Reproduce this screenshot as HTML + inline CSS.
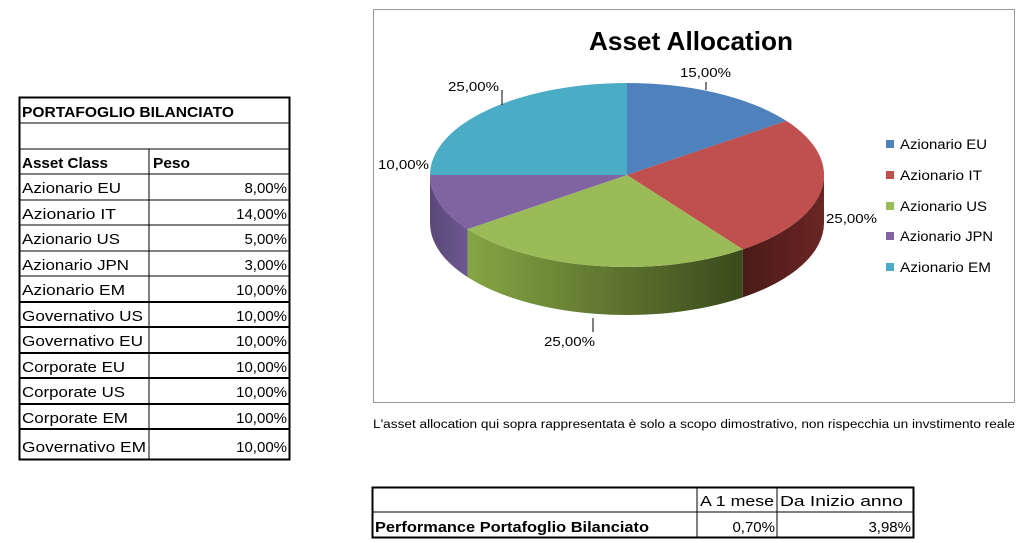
<!DOCTYPE html>
<html><head><meta charset="utf-8"><style>
html,body{margin:0;padding:0;background:#fff}
svg{display:block}
text{font-family:"Liberation Sans",sans-serif}
</style></head><body>
<svg width="1024" height="543" viewBox="0 0 1024 543" xmlns="http://www.w3.org/2000/svg">
<defs>
<linearGradient id="gs" x1="0" x2="1" y1="0" y2="0">
<stop offset="0" stop-color="#86a544"/><stop offset="1" stop-color="#3a4a1c"/></linearGradient>
<linearGradient id="rs" x1="0" x2="1"><stop offset="0" stop-color="#4a1a18"/><stop offset="1" stop-color="#6a2624"/></linearGradient>
<linearGradient id="ps" x1="0" x2="1"><stop offset="0" stop-color="#5b4778"/><stop offset="1" stop-color="#6e5890"/></linearGradient>
</defs>
<!-- Left table -->
<g stroke="#000" fill="none">
<rect x="19.5" y="97.5" width="270" height="362" stroke-width="2"/>
<g stroke-width="1">
<line x1="19" y1="123" x2="290" y2="123"/>
<line x1="19" y1="149" x2="290" y2="149"/>
<line x1="19" y1="174" x2="290" y2="174"/>
<line x1="19" y1="200" x2="290" y2="200"/>
<line x1="19" y1="225" x2="290" y2="225"/>
<line x1="19" y1="251" x2="290" y2="251"/>
<line x1="19" y1="276" x2="290" y2="276"/>
<line x1="19" y1="302" x2="290" y2="302" stroke-width="2"/>
<line x1="19" y1="327" x2="290" y2="327" stroke-width="2"/>
<line x1="19" y1="353" x2="290" y2="353" stroke-width="2"/>
<line x1="19" y1="378" x2="290" y2="378" stroke-width="2"/>
<line x1="19" y1="404" x2="290" y2="404" stroke-width="2"/>
<line x1="19" y1="429" x2="290" y2="429" stroke-width="2"/>
<line x1="149" y1="149" x2="149" y2="460"/>
</g></g>
<g font-size="15" fill="#000">
<text x="22" y="117" font-weight="bold" textLength="212" lengthAdjust="spacingAndGlyphs">PORTAFOGLIO BILANCIATO</text>
<text x="22" y="168" font-weight="bold" textLength="86" lengthAdjust="spacingAndGlyphs">Asset Class</text>
<text x="153" y="168" font-weight="bold" textLength="37" lengthAdjust="spacingAndGlyphs">Peso</text>
<text x="22" y="193" textLength="99" lengthAdjust="spacingAndGlyphs">Azionario EU</text>
<text x="22" y="219" textLength="94" lengthAdjust="spacingAndGlyphs">Azionario IT</text>
<text x="22" y="244" textLength="98" lengthAdjust="spacingAndGlyphs">Azionario US</text>
<text x="22" y="270" textLength="107" lengthAdjust="spacingAndGlyphs">Azionario JPN</text>
<text x="22" y="295" textLength="103" lengthAdjust="spacingAndGlyphs">Azionario EM</text>
<text x="22" y="321" textLength="121" lengthAdjust="spacingAndGlyphs">Governativo US</text>
<text x="22" y="346" textLength="121" lengthAdjust="spacingAndGlyphs">Governativo EU</text>
<text x="22" y="372" textLength="103" lengthAdjust="spacingAndGlyphs">Corporate EU</text>
<text x="22" y="397" textLength="103" lengthAdjust="spacingAndGlyphs">Corporate US</text>
<text x="22" y="423" textLength="106" lengthAdjust="spacingAndGlyphs">Corporate EM</text>
<text x="22" y="452" textLength="124" lengthAdjust="spacingAndGlyphs">Governativo EM</text>
<g text-anchor="end">
<text x="287" y="193">8,00%</text>
<text x="287" y="219">14,00%</text>
<text x="287" y="244">5,00%</text>
<text x="287" y="270">3,00%</text>
<text x="287" y="295">10,00%</text>
<text x="287" y="321">10,00%</text>
<text x="287" y="346">10,00%</text>
<text x="287" y="372">10,00%</text>
<text x="287" y="397">10,00%</text>
<text x="287" y="423">10,00%</text>
<text x="287" y="452">10,00%</text>
</g></g>
<!-- Chart frame -->
<rect x="373.5" y="9.5" width="641" height="393" fill="#fff" stroke="#999" stroke-width="1"/>
<text x="691" y="50" font-size="26" font-weight="bold" text-anchor="middle" textLength="204" lengthAdjust="spacingAndGlyphs">Asset Allocation</text>
<!-- pie sides -->
<path d="M824,175 A197,92 0 0,1 742.8,249.4 L742.8,297.4 A197,92 0 0,0 824,223 Z" fill="url(#rs)"/>
<path d="M742.8,249.4 A197,92 0 0,1 467.6,229.1 L467.6,277.1 A197,92 0 0,0 742.8,297.4 Z" fill="url(#gs)"/>
<path d="M467.6,229.1 A197,92 0 0,1 430,175 L430,223 A197,92 0 0,0 467.6,277.1 Z" fill="url(#ps)"/>
<!-- pie top -->
<path d="M627,175 L627,83 A197,92 0 0,1 786.4,120.9 Z" fill="#4f81bd"/>
<path d="M627,175 L786.4,120.9 A197,92 0 0,1 742.8,249.4 Z" fill="#c0504d"/>
<path d="M627,175 L742.8,249.4 A197,92 0 0,1 467.6,229.1 Z" fill="#9bbb59"/>
<path d="M627,175 L467.6,229.1 A197,92 0 0,1 430,175 Z" fill="#8064a2"/>
<path d="M627,175 L430,175 A197,92 0 0,1 627,83 Z" fill="#4bacc6"/>
<!-- leaders -->
<g stroke="#000" stroke-width="1">
<line x1="706" y1="82" x2="706" y2="90"/>
<line x1="502" y1="90" x2="502" y2="105"/>
<line x1="593" y1="318" x2="593" y2="332"/>
</g>
<g font-size="13" fill="#000">
<text x="680" y="77" textLength="51" lengthAdjust="spacingAndGlyphs">15,00%</text>
<text x="448" y="91" textLength="51" lengthAdjust="spacingAndGlyphs">25,00%</text>
<text x="378" y="169" textLength="51" lengthAdjust="spacingAndGlyphs">10,00%</text>
<text x="826" y="223" textLength="51" lengthAdjust="spacingAndGlyphs">25,00%</text>
<text x="544" y="346" textLength="51" lengthAdjust="spacingAndGlyphs">25,00%</text>
</g>
<!-- legend -->
<rect x="886" y="140" width="8" height="8" fill="#4f81bd"/>
<rect x="886" y="171" width="8" height="8" fill="#c0504d"/>
<rect x="886" y="202" width="8" height="8" fill="#9bbb59"/>
<rect x="886" y="232" width="8" height="8" fill="#8064a2"/>
<rect x="886" y="263" width="8" height="8" fill="#4bacc6"/>
<g font-size="13.5" fill="#000">
<text x="900" y="149" textLength="87" lengthAdjust="spacingAndGlyphs">Azionario EU</text>
<text x="900" y="180" textLength="82" lengthAdjust="spacingAndGlyphs">Azionario IT</text>
<text x="900" y="211" textLength="87" lengthAdjust="spacingAndGlyphs">Azionario US</text>
<text x="900" y="241" textLength="93" lengthAdjust="spacingAndGlyphs">Azionario JPN</text>
<text x="900" y="272" textLength="91" lengthAdjust="spacingAndGlyphs">Azionario EM</text>
</g>
<text x="373" y="428" font-size="11.5" textLength="642" lengthAdjust="spacingAndGlyphs">L'asset allocation qui sopra rappresentata è solo a scopo dimostrativo, non rispecchia un invstimento reale</text>
<!-- bottom table -->
<g stroke="#000" fill="none">
<rect x="372.5" y="487.5" width="541" height="50" stroke-width="2"/>
<line x1="372" y1="512" x2="914" y2="512"/>
<line x1="697" y1="487" x2="697" y2="538"/>
<line x1="777" y1="487" x2="777" y2="538"/>
</g>
<g font-size="15" fill="#000">
<text x="700" y="506" textLength="74" lengthAdjust="spacingAndGlyphs">A 1 mese</text>
<text x="780" y="506" textLength="123" lengthAdjust="spacingAndGlyphs">Da Inizio anno</text>
<text x="375" y="532" font-weight="bold" textLength="274" lengthAdjust="spacingAndGlyphs">Performance Portafoglio Bilanciato</text>
<text x="775" y="532" text-anchor="end">0,70%</text>
<text x="911" y="532" text-anchor="end">3,98%</text>
</g>
</svg>
</body></html>
